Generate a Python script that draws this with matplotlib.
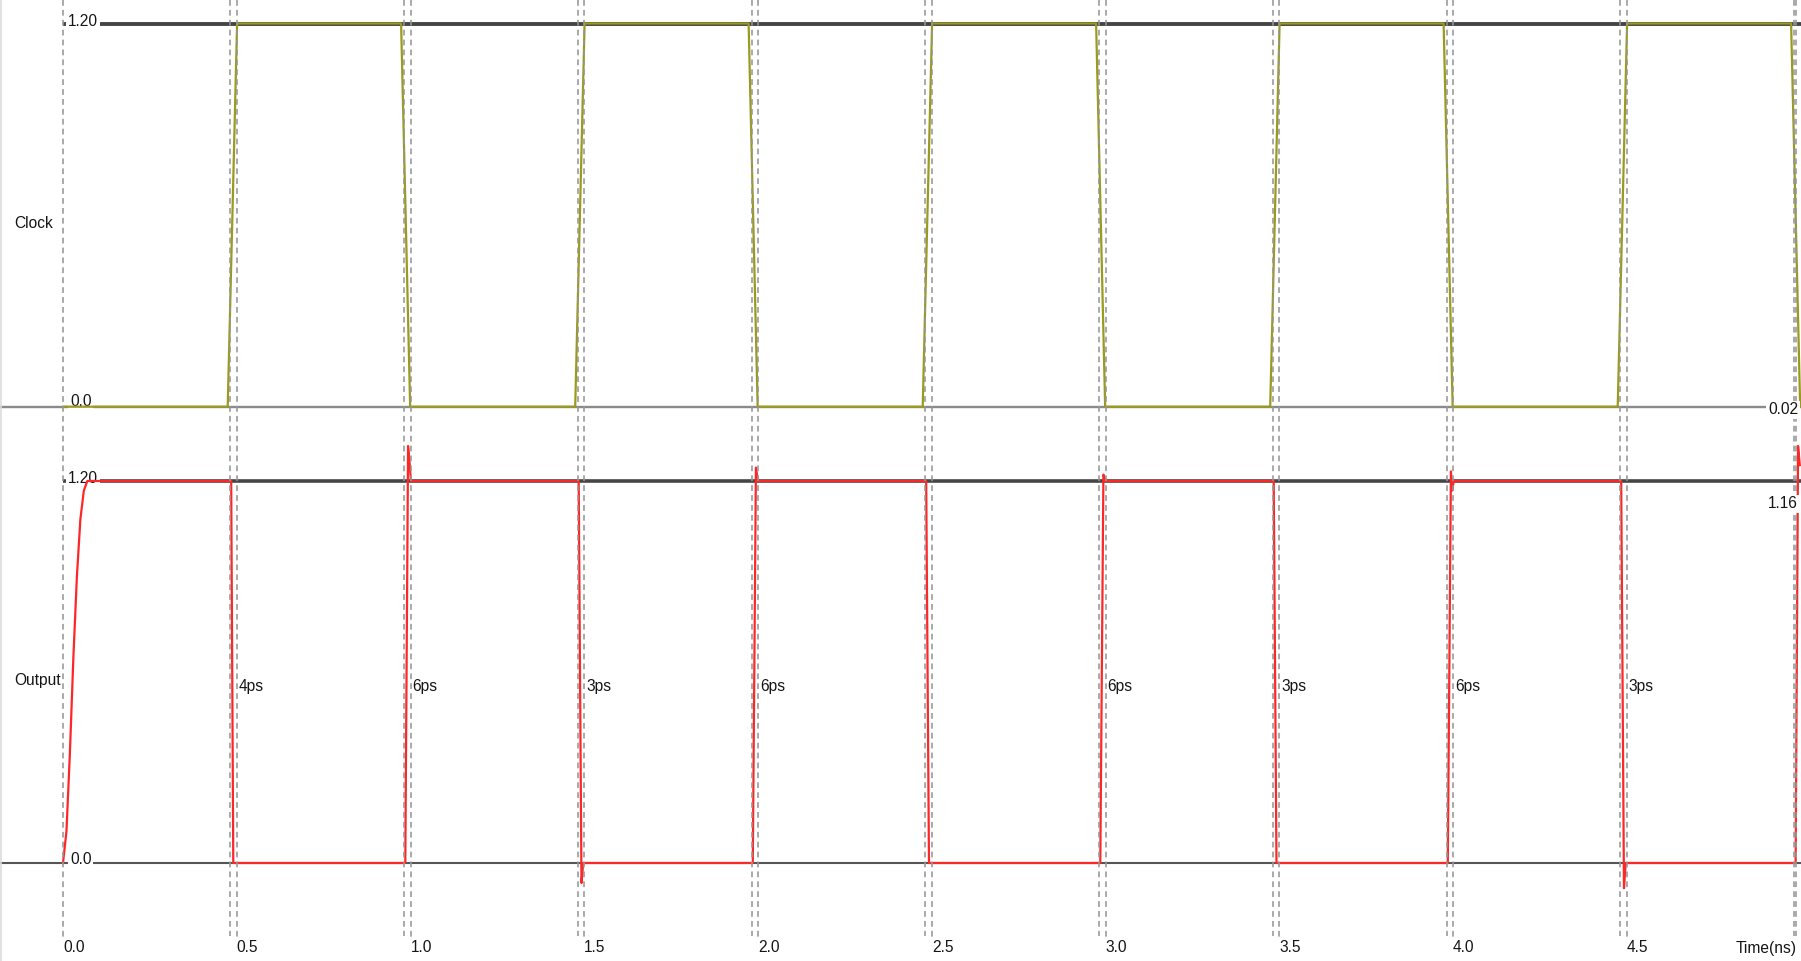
import matplotlib
matplotlib.use('Agg')
import matplotlib.pyplot as plt

# ---------------- data (ns, V) ----------------
clock_t = [0.000, 0.474, 0.501, 0.973, 0.999, 1.474, 1.501, 1.973, 1.999,
           2.474, 2.501, 2.973, 2.999, 3.474, 3.501, 3.973, 3.999, 4.474,
           4.501, 4.973, 4.999]
clock_v = [0.0, 0.0, 1.2, 1.2, 0.0, 0.0, 1.2, 1.2, 0.0,
           0.0, 1.2, 1.2, 0.0, 0.0, 1.2, 1.2, 0.0, 0.0,
           1.2, 1.2, 0.0]

output_t = [0.000, 0.010, 0.020, 0.030, 0.040, 0.050, 0.060, 0.070,
            0.484, 0.490,
            0.985, 0.993, 0.998, 1.001,
            1.484, 1.492, 1.497,
            1.985, 1.994, 2.000,
            2.484, 2.492,
            2.985, 2.994, 3.000,
            3.484, 3.492,
            3.985, 3.994, 3.998, 4.002,
            4.484, 4.492, 4.497,
            4.986, 4.993, 4.998]
output_v = [0.0, 0.10, 0.35, 0.65, 0.90, 1.08, 1.17, 1.20,
            1.20, 0.0,
            0.0, 1.31, 1.25, 1.20,
            1.20, -0.063, 0.0,
            0.0, 1.242, 1.20,
            1.20, 0.0,
            0.0, 1.22, 1.20,
            1.20, 0.0,
            0.0, 1.23, 1.17, 1.20,
            1.20, -0.079, 0.0,
            0.0, 1.31, 1.25]

tick_values = [0.0, 0.5, 1.0, 1.5, 2.0, 2.5, 3.0, 3.5, 4.0, 4.5]
tick_labels = ["0.0", "0.5", "1.0", "1.5", "2.0", "2.5", "3.0", "3.5", "4.0", "4.5"]
cursor_times = [0.482, 0.982, 1.482, 1.982, 2.482, 2.982, 3.482, 3.982, 4.482, 4.980, 4.987]
delay_times = [0.5, 1.0, 1.5, 2.0, 3.0, 3.5, 4.0, 4.5]
delay_labels = ["4ps", "6ps", "3ps", "6ps", "6ps", "3ps", "6ps", "3ps"]
clock_cursor_value = "0.02"
output_cursor_value = "1.16"
ref_high = 1.2
ref_low = 0.0

# ---------------- layout ----------------
W, H = 1801, 961
PX_NS = 347.5
X0 = -63 / PX_NS
X1 = (W - 63) / PX_NS

plt.rcParams['font.family'] = ['Liberation Sans', 'DejaVu Sans']
fig = plt.figure(figsize=(W / 100, H / 100), dpi=100)
fig.patch.set_facecolor('white')

# clock axes spans pixel rows 0..440 ; 1.2 V at 23.5, 0 V at 406.7
c_top, c_bot = 0, 440
c_scale = 1.2 / (406.7 - 23.5)
ax_c = fig.add_axes([0, 1 - c_bot / H, 1, (c_bot - c_top) / H])
ax_c.set_ylim(-(c_bot - 406.7) * c_scale, 1.2 + (23.5 - c_top) * c_scale)

# output axes spans pixel rows 440..961 ; 1.2 V at 481, 0 V at 863
o_top, o_bot = 440, 961
o_scale = 1.2 / (863 - 481)
ax_o = fig.add_axes([0, 0, 1, (o_bot - o_top) / H])
ax_o.set_ylim(-(o_bot - 863) * o_scale, 1.2 + (481 - o_top) * o_scale)

ax_ov = fig.add_axes([0, 0, 1, 1], facecolor='none')
ax_ov.set_ylim(H, 0)

for ax in (ax_c, ax_o, ax_ov):
    ax.set_xlim(X0, X1)
    ax.set_axis_off()

txt = dict(fontsize=11.2, color='#151515')
wbox = dict(boxstyle='square,pad=0.12', fc='white', ec='none')
off = 5 / PX_NS

# reference lines
ax_c.axhline(ref_low, color='#8a8a8a', lw=1.7, zorder=1)
ax_c.hlines(ref_high, 0, X1, color='#454545', lw=2.8, zorder=1)
ax_o.axhline(ref_low, color='#555555', lw=1.5, zorder=1)
ax_o.hlines(ref_high, 0, X1, color='#454545', lw=2.6, zorder=1)

# level labels (above reference lines, below signals)
ax_c.text(off, ref_high + 2 * c_scale, "1.20", ha='left', va='center',
          bbox=wbox, zorder=1.5, **txt)
ax_c.text(off + 2 / PX_NS, ref_low + 5 * c_scale, "0.0", ha='left', va='center',
          bbox=wbox, zorder=1.5, **txt)
ax_o.text(off, ref_high + 2.5 * o_scale, "1.20", ha='left', va='center',
          bbox=wbox, zorder=1.5, **txt)
ax_o.text(off + 2 / PX_NS, ref_low + 4 * o_scale, "0.0", ha='left', va='center',
          bbox=wbox, zorder=1.5, **txt)

# signals
ax_c.plot(clock_t, clock_v, color='#9a9a1c', lw=1.6, zorder=2, clip_on=False)
ax_o.plot(output_t, output_v, color='#ff2626', lw=1.6, zorder=2, clip_on=False)

# dashed cursor / grid lines
dash = dict(color='#969696', lw=1.15, linestyles=(0, (3.6, 2.6)))
ax_ov.vlines(tick_values, 0, 938, **dash)
ax_ov.vlines(cursor_times, 0, 936, **dash)
ax_ov.axvline(X0 + 1.5 / PX_NS, color='#dcdcdc', lw=1.2)

# cursor values on the right
xr = (1798 - 63) / PX_NS
ax_ov.text(xr, 410, clock_cursor_value, ha='right', va='center', bbox=wbox, **txt)
ax_ov.text(xr, 504, output_cursor_value, ha='right', va='center', bbox=wbox, **txt)

# signal names
ax_ov.text((14 - 63) / PX_NS, 223, "Clock", ha='left', va='center', **txt)
ax_ov.text((14 - 63) / PX_NS, 681, "Output", ha='left', va='center', **txt)

# delay labels
for t, lab in zip(delay_times, delay_labels):
    ax_ov.text(t + 2 / PX_NS, 686, lab, ha='left', va='center', **txt)

# time axis labels
for t, lab in zip(tick_values, tick_labels):
    ax_ov.text(t, 948, lab, ha='left', va='center', **txt)
ax_ov.text((1797 - 63) / PX_NS, 948, "Time(ns)", ha='right', va='center', **txt)

fig.savefig('out.png', dpi=100, facecolor='white')
